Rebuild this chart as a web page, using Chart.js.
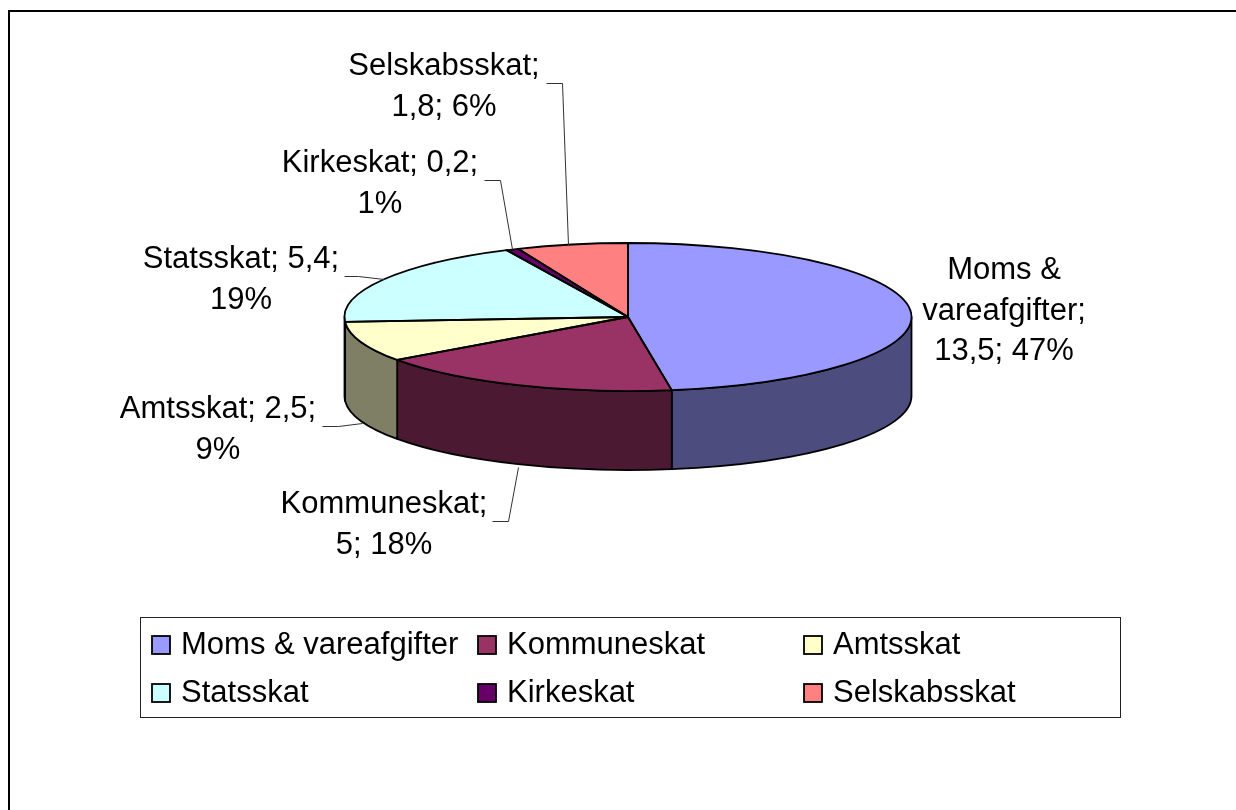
<!DOCTYPE html>
<html>
<head>
<meta charset="utf-8">
<title>Skatter</title>
<script src="https://cdn.jsdelivr.net/npm/chart.js@4/dist/chart.umd.min.js"></script>
<style>
html,body{margin:0;padding:0;background:#fff;overflow:hidden}
canvas{display:block}
</style>
</head>
<body>
<canvas id="pie" width="1236" height="810"></canvas>
<script>
const categories=["Moms & vareafgifter","Kommuneskat","Amtsskat","Statsskat","Kirkeskat","Selskabsskat"];
const values=[13.5,5,2.5,5.4,0.2,1.8];
const colors=["#9999FF","#993366","#FFFFCC","#CCFFFF","#660066","#FF8080"];
const labelLines=[
  ["Moms &","vareafgifter;","13,5; 47%"],
  ["Kommuneskat;","5; 18%"],
  ["Amtsskat; 2,5;","9%"],
  ["Statsskat; 5,4;","19%"],
  ["Kirkeskat; 0,2;","1%"],
  ["Selskabsskat;","1,8; 6%"]
];

// layout only, not data
const FONT="31px 'Liberation Sans', Arial, sans-serif";
const SQUASH=74/283.5, DEPTH=79;
const labelPos=[[1004,279],[384,513],[218,418],[241,268],[380,172],[444,75]];
const leaders=[
  null,
  [[492,521],[508,521],[518,467]],
  [[322,426],[338,426],[362,423]],
  [[344,276],[358,276],[384,279]],
  [[484,180],[500,180],[512,249]],
  [[546,83],[562,83],[568,245]]
];
const legendBox=[140,617,980,100];
const legendCols=[[151,181],[477,507],[803,833]];
const legendRows=[[635,655],[683,703]];

function darken(hex){
  const n=parseInt(hex.slice(1),16);
  return `rgb(${(n>>16)>>1},${((n>>8)&255)>>1},${(n&255)>>1})`;
}

const pie3d={
  id:"pie3d",
  beforeDraw(chart){
    const c=chart.ctx; c.save();
    c.fillStyle="#fff"; c.fillRect(0,0,chart.width,chart.height);
    c.strokeStyle="#000"; c.lineWidth=2;
    c.strokeRect(9,11,1400,1000);
    c.restore();
  },
  beforeDatasetsDraw(chart){
    const c=chart.ctx, arcs=chart.getDatasetMeta(0).data;
    const {x:cx,y:cy,outerRadius:r}=arcs[0];
    c.save();
    c.lineWidth=1.8; c.strokeStyle="#000"; c.lineJoin="round";
    arcs.forEach((arc,i)=>{
      [0,2*Math.PI,-2*Math.PI].forEach(k=>{
        const a=Math.max(arc.startAngle+k,0), b=Math.min(arc.endAngle+k,Math.PI);
        if(b<=a) return;
        c.beginPath();
        c.ellipse(cx,cy,r,r*SQUASH,0,a,b);
        c.ellipse(cx,cy+DEPTH,r,r*SQUASH,0,b,a,true);
        c.closePath();
        c.fillStyle=darken(colors[i]);
        c.fill(); c.stroke();
      });
    });
    c.restore();
    // squash the library's arcs into the top face
    c.save();
    c.translate(0,cy); c.scale(1,SQUASH); c.translate(0,-cy);
  },
  afterDatasetsDraw(chart){
    const c=chart.ctx, arcs=chart.getDatasetMeta(0).data;
    c.restore();
    c.save();
    c.lineWidth=1.8; c.strokeStyle="#000"; c.lineJoin="round";
    arcs.forEach(arc=>{
      c.beginPath();
      c.moveTo(arc.x,arc.y);
      c.ellipse(arc.x,arc.y,arc.outerRadius,arc.outerRadius*SQUASH,0,arc.startAngle,arc.endAngle);
      c.closePath();
      c.stroke();
    });
    c.restore();
  },
  afterDraw(chart){
    const c=chart.ctx; c.save();
    // leader lines
    c.strokeStyle="#333"; c.lineWidth=1;
    leaders.forEach(l=>{
      if(!l) return;
      c.beginPath();
      l.forEach((p,i)=>i?c.lineTo(p[0]+.5,p[1]+.5):c.moveTo(p[0]+.5,p[1]+.5));
      c.stroke();
    });
    // data labels
    c.font=FONT; c.fillStyle="#000"; c.textAlign="center"; c.textBaseline="alphabetic";
    labelLines.forEach((lines,i)=>{
      lines.forEach((t,j)=>c.fillText(t,labelPos[i][0],labelPos[i][1]+j*40.5));
    });
    // legend, three columns
    c.strokeStyle="#222"; c.lineWidth=1;
    c.strokeRect(legendBox[0]+.5,legendBox[1]+.5,legendBox[2],legendBox[3]);
    c.textAlign="left";
    categories.forEach((name,i)=>{
      const col=legendCols[i%3], row=legendRows[Math.floor(i/3)];
      c.fillStyle=colors[i]; c.strokeStyle="#000"; c.lineWidth=1.8;
      c.fillRect(col[0]+1,row[0]+1,18,18); c.strokeRect(col[0]+1,row[0]+1,18,18);
      c.fillStyle="#000";
      c.fillText(name,col[1],row[1]-1);
    });
    c.restore();
  }
};

new Chart(document.getElementById("pie"),{
  type:"pie",
  data:{labels:categories,datasets:[{data:values,backgroundColor:colors,borderWidth:0,radius:283.5,clip:false}]},
  options:{
    responsive:false,
    animation:false,
    layout:{padding:{left:344.5,right:324.5,top:33.5,bottom:209.5}},
    plugins:{legend:{display:false},tooltip:{enabled:false}}
  },
  plugins:[pie3d]
});
</script>
</body>
</html>
